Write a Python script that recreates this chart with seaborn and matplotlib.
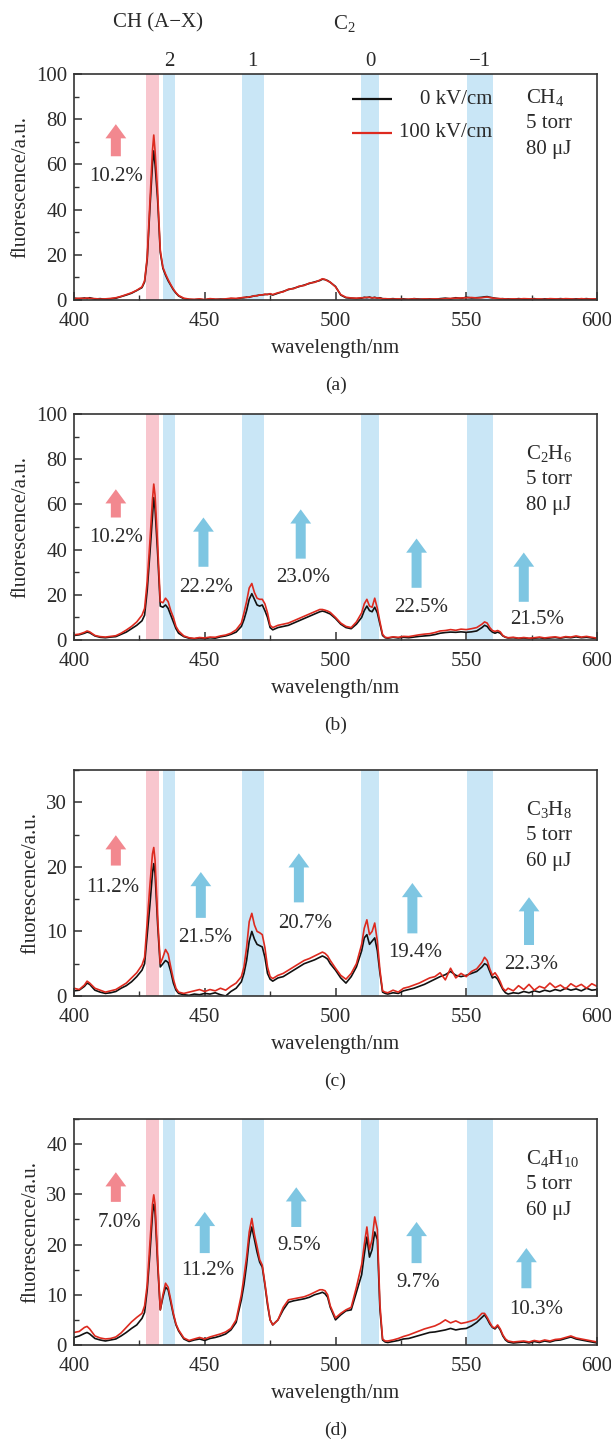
import numpy as np
import pandas as pd
import matplotlib
matplotlib.use("Agg")
import matplotlib.pyplot as plt
import seaborn as sns
from matplotlib.ticker import MultipleLocator

# ---------------- data ----------------
WL = [400, 402, 404, 405, 406, 408, 410, 412, 414, 416,
      418, 420, 422, 424, 426, 427, 428, 429, 430, 430.5,
      431, 432, 433, 434, 435, 436, 437, 438, 439, 440,
      442, 444, 446, 448, 450, 452, 454, 456, 458, 460,
      462, 464, 465, 466, 467, 468, 469, 470, 471, 472,
      473, 474, 475, 476, 478, 480, 482, 484, 486, 488,
      490, 492, 494, 495, 496, 497, 498, 500, 502, 504,
      506, 508, 510, 511, 512, 513, 514, 515, 516, 517,
      518, 519, 520, 522, 524, 526, 528, 530, 532, 534,
      536, 538, 540, 542, 544, 546, 548, 550, 552, 554,
      556, 557, 558, 559, 560, 561, 562, 563, 564, 565,
      566, 568, 570, 572, 574, 576, 578, 580, 582, 584,
      586, 588, 590, 592, 594, 596, 598, 600]

# (a) CH4
A0 = [0.8, 0.5, 0.9, 0.6, 1.0, 0.4, 0.6, 0.3, 0.5, 0.8,
      1.5, 2.2, 3.0, 4.2, 5.5, 8.0, 18, 40, 60, 66,
      60, 44, 21, 14, 11, 8.5, 6.5, 4.5, 3.0, 1.8,
      0.6, 0.2, 0.1, 0.3, 0.0, 0.5, 0.2, 0.4, 0.3, 0.6,
      0.5, 0.9, 1.0, 1.3, 1.2, 1.6, 1.8, 2.0, 2.2, 2.3,
      2.4, 2.5, 2.6, 2.2, 3.0, 3.8, 4.6, 5.2, 5.9, 6.6,
      7.3, 8.0, 8.6, 9.2, 9.0, 8.6, 7.8, 6.0, 2.2, 1.0,
      0.8, 0.6, 0.8, 1.2, 1.0, 1.3, 0.9, 1.2, 0.8, 1.0,
      0.6, 0.5, 0.4, 0.6, 0.3, 0.5, 0.2, 0.6, 0.4, 0.3,
      0.5, 0.3, 0.6, 0.8, 0.5, 1.0, 0.7, 1.2, 0.9, 1.0,
      1.2, 1.4, 1.5, 1.2, 1.0, 0.8, 0.6, 0.5, 0.6, 0.4,
      0.5, 0.3, 0.6, 0.4, 0.3, 0.6, 0.2, 0.5, 0.4, 0.3,
      0.6, 0.4, 0.3, 0.5, 0.4, 0.6, 0.3, 0.5]
A100 = [0.6, 0.8, 0.7, 0.9, 0.7, 0.6, 0.4, 0.5, 0.7, 1.0,
        1.6, 2.4, 3.2, 4.3, 5.8, 8.5, 19, 43, 66, 73,
        66, 47, 22, 14.5, 11.5, 9.0, 6.8, 4.8, 3.2, 2.0,
        0.8, 0.4, 0.3, 0.5, 0.2, 0.6, 0.4, 0.3, 0.5, 0.8,
        0.7, 1.0, 1.2, 1.1, 1.4, 1.5, 1.9, 1.8, 2.3, 2.2,
        2.6, 2.4, 2.8, 2.4, 3.2, 3.6, 4.8, 5.0, 6.1, 6.4,
        7.5, 7.8, 8.8, 9.4, 9.1, 8.4, 7.9, 5.8, 2.4, 1.2,
        0.9, 0.8, 1.0, 1.0, 1.2, 1.1, 1.0, 1.0, 0.9, 0.8,
        0.5, 0.6, 0.5, 0.4, 0.5, 0.3, 0.4, 0.5, 0.3, 0.5,
        0.4, 0.5, 0.4, 0.6, 0.7, 0.8, 0.9, 1.0, 1.1, 0.9,
        1.0, 1.2, 1.3, 1.1, 0.9, 0.7, 0.7, 0.6, 0.5, 0.5,
        0.4, 0.5, 0.4, 0.6, 0.5, 0.4, 0.5, 0.3, 0.6, 0.5,
        0.4, 0.6, 0.5, 0.3, 0.6, 0.4, 0.5, 0.4]

# (b) C2H6
B0 = [2.0, 2.3, 3.0, 3.5, 3.2, 1.8, 1.2, 1.0, 1.3, 1.5,
      2.5, 3.5, 5.0, 6.5, 8.5, 11, 22, 38, 55, 63,
      58, 38, 15, 14.5, 15.5, 14, 11, 8, 5, 3,
      1.5, 0.8, 0.5, 0.9, 0.6, 1.0, 0.8, 1.4, 1.8, 2.5,
      3.5, 6, 9, 13, 18, 20.5, 18, 15.5, 15, 15.5,
      13, 10, 5.5, 4.5, 5.5, 6.0, 6.5, 7.5, 8.5, 9.5,
      10.5, 11.5, 12.5, 12.8, 12.5, 12.0, 11.5, 9.5, 7, 5.5,
      5.0, 7, 10, 13, 15, 13, 12.5, 14.5, 12, 7,
      2, 1.0, 0.8, 1.2, 0.9, 1.2, 1.0, 1.3, 1.6, 1.8,
      2.0, 2.4, 3.0, 3.3, 3.5, 3.4, 3.6, 3.4, 3.6, 4.0,
      5.5, 6.5, 6.0, 4.5, 3.5, 3.0, 3.5, 3.0, 1.8, 1.2,
      0.9, 1.0, 0.7, 0.9, 0.6, 0.8, 1.0, 0.7, 0.9, 1.1,
      0.8, 1.2, 1.0, 1.4, 1.0, 1.2, 0.9, 0.6]
B100 = [2.3, 2.6, 3.4, 4.0, 3.6, 2.0, 1.5, 1.3, 1.6, 1.9,
        3.0, 4.4, 6.0, 8.0, 11, 14, 26, 43, 62, 69,
        64, 42, 17, 16.5, 18.5, 17, 13, 10, 6, 4,
        1.8, 1.0, 0.7, 1.1, 0.9, 1.3, 1.2, 1.8, 2.2, 3.0,
        4.5, 7.5, 12, 17, 23, 25, 21, 18.5, 18, 18,
        16, 12, 6.5, 5.5, 6.5, 7.0, 7.5, 8.5, 9.5, 10.5,
        11.5, 12.5, 13.5, 13.5, 13.2, 12.8, 12.2, 10, 7.5, 6,
        5.5, 8, 12, 16, 18, 15, 14.5, 18.5, 14, 8,
        2.5, 1.2, 1.0, 1.4, 1.2, 1.6, 1.5, 1.9, 2.3, 2.6,
        2.8, 3.3, 4.0, 4.2, 4.6, 4.3, 4.8, 4.6, 5.0, 5.5,
        7.0, 8.0, 7.5, 5.5, 4.2, 3.8, 4.2, 3.6, 2.0, 1.3,
        1.0, 1.2, 0.8, 1.1, 0.8, 1.0, 1.3, 0.9, 1.2, 1.4,
        1.0, 1.5, 1.3, 1.8, 1.3, 1.6, 1.2, 0.8]

# (c) C3H8
C0 = [0.8, 0.9, 1.5, 2.0, 1.8, 0.9, 0.6, 0.4, 0.5, 0.7,
      1.2, 1.6, 2.2, 3.0, 4.0, 5.0, 9.5, 14, 19, 20.5,
      19, 11, 4.5, 5.0, 5.5, 5.2, 3.8, 2.0, 0.9, 0.4,
      0.2, 0.1, 0.3, 0.2, 0.4, 0.3, 0.5, 0.2, 0.0, 0.7,
      1.2, 2.2, 3.5, 5.5, 8.5, 10, 8.8, 8.0, 7.8, 7.6,
      6.0, 3.5, 2.6, 2.3, 2.8, 3.0, 3.5, 4.0, 4.5, 5.0,
      5.3, 5.6, 6.0, 6.2, 6.0, 5.7, 5.0, 4.0, 2.8, 2.0,
      3.0, 4.5, 7.0, 9.0, 9.5, 8.0, 8.5, 9.0, 7.0, 3.5,
      0.6, 0.4, 0.3, 0.5, 0.4, 0.8, 1.0, 1.2, 1.5, 1.8,
      2.2, 2.6, 3.0, 3.3, 3.8, 3.2, 3.0, 3.2, 3.5, 3.8,
      4.5, 5.0, 4.8, 3.8, 2.8, 3.0, 2.6, 1.8, 1.0, 0.5,
      0.3, 0.5, 0.4, 0.7, 0.5, 0.8, 0.6, 0.9, 0.7, 1.0,
      0.8, 1.2, 0.9, 1.1, 0.8, 1.2, 0.9, 1.0]
C100 = [1.2, 1.0, 1.7, 2.3, 2.0, 1.2, 0.9, 0.6, 0.8, 1.0,
        1.5, 2.0, 2.8, 3.6, 4.8, 6.0, 11.5, 17, 22, 23,
        21, 12, 5.0, 6.0, 7.2, 6.5, 4.5, 2.6, 1.2, 0.6,
        0.4, 0.6, 0.8, 1.0, 0.7, 1.0, 0.8, 1.2, 0.9, 1.5,
        2.0, 3.0, 4.5, 7.5, 11.5, 12.8, 11, 10, 9.8, 9.5,
        7.5, 4.5, 3.0, 2.7, 3.2, 3.5, 4.0, 4.5, 5.0, 5.5,
        5.8, 6.2, 6.6, 6.8, 6.6, 6.2, 5.5, 4.3, 3.2, 2.6,
        3.5, 5.0, 8.0, 10.5, 11.8, 9.5, 10, 11.3, 8.5, 4.0,
        0.8, 0.6, 0.5, 0.9, 0.6, 1.2, 1.4, 1.7, 2.0, 2.4,
        2.8, 3.0, 3.6, 2.5, 4.3, 2.8, 3.5, 3.0, 3.8, 4.2,
        5.2, 6.0, 5.5, 4.2, 3.2, 3.6, 3.0, 2.2, 1.2, 0.8,
        1.2, 0.8, 1.6, 1.0, 1.8, 0.9, 1.5, 1.2, 2.0, 1.3,
        1.7, 1.1, 1.9, 1.4, 1.8, 1.2, 1.9, 1.5]

# (d) C4H10
D0 = [1.5, 1.8, 2.3, 2.5, 2.2, 1.3, 1.0, 0.8, 1.0, 1.2,
      1.8, 2.5, 3.3, 4.0, 5.3, 6.5, 11, 18, 26, 28,
      26.5, 16, 7.0, 9.5, 11.5, 11, 8.5, 6, 4, 2.8,
      1.2, 0.7, 1.0, 1.2, 0.9, 1.3, 1.5, 1.8, 2.2, 3.0,
      4.5, 9.0, 12, 16, 21, 23.5, 21, 18.5, 16.5, 15.5,
      12, 8, 5, 4.0, 5.0, 7.0, 8.5, 8.8, 9.0, 9.2,
      9.5, 10, 10.3, 10.5, 10.2, 9.5, 7.5, 5.0, 6.0, 6.8,
      7.0, 10.5, 14, 18, 21.5, 17.5, 19, 22.5, 21, 7,
      1.0, 0.6, 0.5, 0.7, 0.9, 1.2, 1.3, 1.6, 1.9, 2.2,
      2.5, 2.6, 2.8, 3.0, 3.3, 3.0, 3.2, 3.3, 3.8, 4.5,
      5.5, 6.0, 5.2, 4.2, 3.5, 3.2, 3.8, 3.0, 1.8, 1.0,
      0.6, 0.4, 0.5, 0.6, 0.4, 0.7, 0.5, 0.8, 0.6, 0.9,
      1.0, 1.3, 1.6, 1.2, 1.0, 0.8, 0.6, 0.4]
D100 = [2.5, 2.7, 3.5, 3.7, 3.2, 1.8, 1.4, 1.2, 1.3, 1.6,
        2.4, 3.5, 4.6, 5.5, 6.3, 7.8, 12, 20, 28, 29.9,
        28, 17, 7.0, 10, 12.3, 11.5, 9, 6.3, 4.2, 3.0,
        1.4, 0.9, 1.2, 1.5, 1.2, 1.6, 1.9, 2.2, 2.6, 3.3,
        5.0, 10, 13.6, 17.5, 22.5, 25.2, 22, 19.6, 17, 15.9,
        12.3, 8.5, 5.0, 4.0, 5.0, 7.5, 9.0, 9.2, 9.4, 9.6,
        10, 10.5, 11, 11, 10.8, 10, 7.8, 5.4, 6.3, 7.0,
        7.5, 11.5, 16, 20, 23.5, 19, 21, 25.5, 23, 8,
        1.2, 0.8, 0.8, 1.0, 1.3, 1.7, 2.0, 2.4, 2.8, 3.2,
        3.5, 3.8, 4.3, 5.0, 4.4, 4.8, 4.3, 4.5, 4.8, 5.2,
        6.3, 6.3, 5.5, 4.5, 3.6, 3.4, 4.0, 3.2, 2.0, 1.2,
        0.8, 0.6, 0.7, 0.8, 0.6, 0.9, 0.7, 1.0, 0.8, 1.1,
        1.2, 1.5, 1.8, 1.4, 1.2, 1.0, 0.8, 0.6]

FIELDS = ["0 kV/cm", "100 kV/cm"]
GASES = ["CH$_4$", "C$_2$H$_6$", "C$_3$H$_8$", "C$_4$H$_{10}$"]
ENERGIES = ["80 μJ", "80 μJ", "60 μJ", "60 μJ"]
PRESSURE = "5 torr"
CAPTIONS = ["(a)", "(b)", "(c)", "(d)"]
YMAX = [100, 100, 35, 45]

CH_BAND = (427.5, 432.6)
C2_BANDS = [(434.0, 438.7), (464.2, 472.5), (509.8, 516.7), (550.3, 560.2)]
C2_BAND_LABELS = ["2", "1", "0", "\u22121"]

# percentage annotations: (label, x, arrow start, arrow end, text x, text y, kind)
ANNOTS = [
    [("10.2%", 416, 63.6, 77.8, 416, 54.7, "ch")],
    [("10.2%", 416, 54.2, 66.7, 416, 45.3, "ch"),
     ("22.2%", 449.5, 32.4, 54.2, 450.5, 23.1, "c2"),
     ("23.0%", 486.7, 36.0, 57.8, 487.7, 27.6, "c2"),
     ("22.5%", 531.0, 23.1, 44.9, 532.6, 14.2, "c2"),
     ("21.5%", 572.0, 16.9, 38.7, 577.0, 8.9, "c2")],
    [("11.2%", 416, 20.2, 24.9, 415, 16.8, "ch"),
     ("21.5%", 448.5, 12.1, 19.2, 450.0, 9.0, "c2"),
     ("20.7%", 486.0, 14.5, 22.1, 488.5, 11.3, "c2"),
     ("19.4%", 529.4, 9.7, 17.5, 530.3, 6.8, "c2"),
     ("22.3%", 574.0, 7.9, 15.3, 574.7, 4.9, "c2")],
    [("7.0%", 416, 28.5, 34.4, 417.5, 24.3, "ch"),
     ("11.2%", 450.0, 18.3, 26.5, 451.0, 14.9, "c2"),
     ("9.5%", 485.0, 23.5, 31.4, 486.0, 19.9, "c2"),
     ("9.7%", 531.0, 16.3, 24.5, 531.7, 12.5, "c2"),
     ("10.3%", 573.0, 11.3, 19.3, 576.6, 7.0, "c2")],
]

SERIES = [(A0, A100), (B0, B100), (C0, C100), (D0, D100)]
for s0, s1 in SERIES:
    assert len(s0) == len(WL) and len(s1) == len(WL), (len(s0), len(s1), len(WL))

# ---------------- style ----------------
sns.set_theme(style="ticks")
plt.rcParams["font.family"] = ["Liberation Serif", "DejaVu Serif"]
plt.rcParams["mathtext.fontset"] = "custom"
plt.rcParams["mathtext.rm"] = "Liberation Serif"
plt.rcParams["mathtext.it"] = "Liberation Serif:italic"
plt.rcParams["mathtext.bf"] = "Liberation Serif:bold"
plt.rcParams["axes.edgecolor"] = "#333333"
plt.rcParams["axes.linewidth"] = 1.2

TXT = "#2a2a2a"
FS = 15
PINK_BAND = "#f8c6ce"
BLUE_BAND = "#c9e6f6"
PINK_ARROW = "#f2888f"
BLUE_ARROW = "#7ec6e2"
PALETTE = {"0 kV/cm": "#111111", "100 kV/cm": "#dd2a1f"}

W, H = 611, 1442
fig = plt.figure(figsize=(W / 100, H / 100), dpi=100)

LEFT_PX, RIGHT_PX = 74, 597
BOTTOMS_PX = [300, 640, 996, 1345]
HEIGHT_PX = 226

axes = []
for i in range(4):
    b = BOTTOMS_PX[i]
    ax = fig.add_axes([LEFT_PX / W, 1 - b / H, (RIGHT_PX - LEFT_PX) / W, HEIGHT_PX / H])
    axes.append(ax)

    s0, s1 = SERIES[i]
    df = pd.DataFrame({
        "wavelength": WL + WL,
        "fluorescence": list(s0) + list(s1),
        "field": [FIELDS[0]] * len(WL) + [FIELDS[1]] * len(WL),
    })

    ax.axvspan(*CH_BAND, color=PINK_BAND, lw=0, zorder=0)
    for lo, hi in C2_BANDS:
        ax.axvspan(lo, hi, color=BLUE_BAND, lw=0, zorder=0)

    sns.lineplot(data=df, x="wavelength", y="fluorescence", hue="field",
                 hue_order=FIELDS, palette=PALETTE, estimator=None, sort=False,
                 legend=False, linewidth=1.2, ax=ax, zorder=3)

    ax.set_xlim(400, 600)
    ax.set_ylim(0, YMAX[i])
    ax.xaxis.set_major_locator(MultipleLocator(50))
    ax.xaxis.set_minor_locator(MultipleLocator(25))
    if YMAX[i] == 100:
        ax.yaxis.set_major_locator(MultipleLocator(20))
        ax.yaxis.set_minor_locator(MultipleLocator(10))
    else:
        ax.yaxis.set_major_locator(MultipleLocator(10))
        ax.yaxis.set_minor_locator(MultipleLocator(5))
    ax.tick_params(which="major", direction="in", length=6, width=1.1,
                   labelsize=FS, labelcolor=TXT, color="#333333")
    ax.tick_params(which="minor", direction="in", length=3.5, width=1.0, color="#333333")
    ax.tick_params(axis="x", which="major", pad=8.5)
    ax.tick_params(axis="y", which="major", pad=5)
    for sp in ax.spines.values():
        sp.set_visible(True)
        sp.set_zorder(5)

    ax.set_xlabel("wavelength/nm", fontsize=FS, color=TXT, labelpad=6)
    ax.set_ylabel("fluorescence/a.u.", fontsize=FS, color=TXT, labelpad=4)

    # gas / condition text
    ys = [0.898, 0.782, 0.667] if i == 0 else [0.825, 0.710, 0.595]
    xt = (573 - 400) / 200
    for yy, t in zip(ys, [GASES[i], PRESSURE, ENERGIES[i]]):
        ax.text(xt, yy, t, transform=ax.transAxes, fontsize=FS, color=TXT,
                ha="left", va="center")

    # arrows and percentages
    for lab, x, y0, y1, tx, ty, kind in ANNOTS[i]:
        col = PINK_ARROW if kind == "ch" else BLUE_ARROW
        ax.annotate("", xy=(x, y1), xytext=(x, y0),
                    arrowprops=dict(arrowstyle="simple,head_length=0.85,head_width=1.25,tail_width=0.6",
                                    color=col, lw=0, shrinkA=0, shrinkB=0, mutation_scale=12),
                    zorder=4)
        ax.text(tx, ty, lab, fontsize=FS, color=TXT, ha="center", va="center", zorder=4)

    fig.text((LEFT_PX + RIGHT_PX) / 2 / W, 1 - (b + 85) / H, CAPTIONS[i],
             fontsize=FS - 1, color=TXT, ha="center", va="center")

# legend in panel (a), labels right-aligned as in the reference
ax = axes[0]
leg_y = [0.889, 0.741]
for yy, f in zip(leg_y, FIELDS):
    ax.plot([0.5325, 0.6075], [yy, yy], transform=ax.transAxes,
            color=PALETTE[f], lw=1.6, solid_capstyle="butt")
    ax.text(0.80, yy, f, transform=ax.transAxes, fontsize=FS, color=TXT,
            ha="right", va="center")

# band labels above panel (a)
for (lo, hi), lab in zip(C2_BANDS, C2_BAND_LABELS):
    ax.text((lo + hi) / 2, 1 + 12 / HEIGHT_PX, lab, transform=ax.get_xaxis_transform(),
            fontsize=FS, color=TXT, ha="center", va="center")
ax.text(432.3, 1 + 51 / HEIGHT_PX, "CH (A\u2212X)", transform=ax.get_xaxis_transform(),
        fontsize=FS, color=TXT, ha="center", va="center")
ax.text(503.5, 1 + 51 / HEIGHT_PX, "C$_2$", transform=ax.get_xaxis_transform(),
        fontsize=FS, color=TXT, ha="center", va="center")

fig.savefig("out.png", dpi=100)
